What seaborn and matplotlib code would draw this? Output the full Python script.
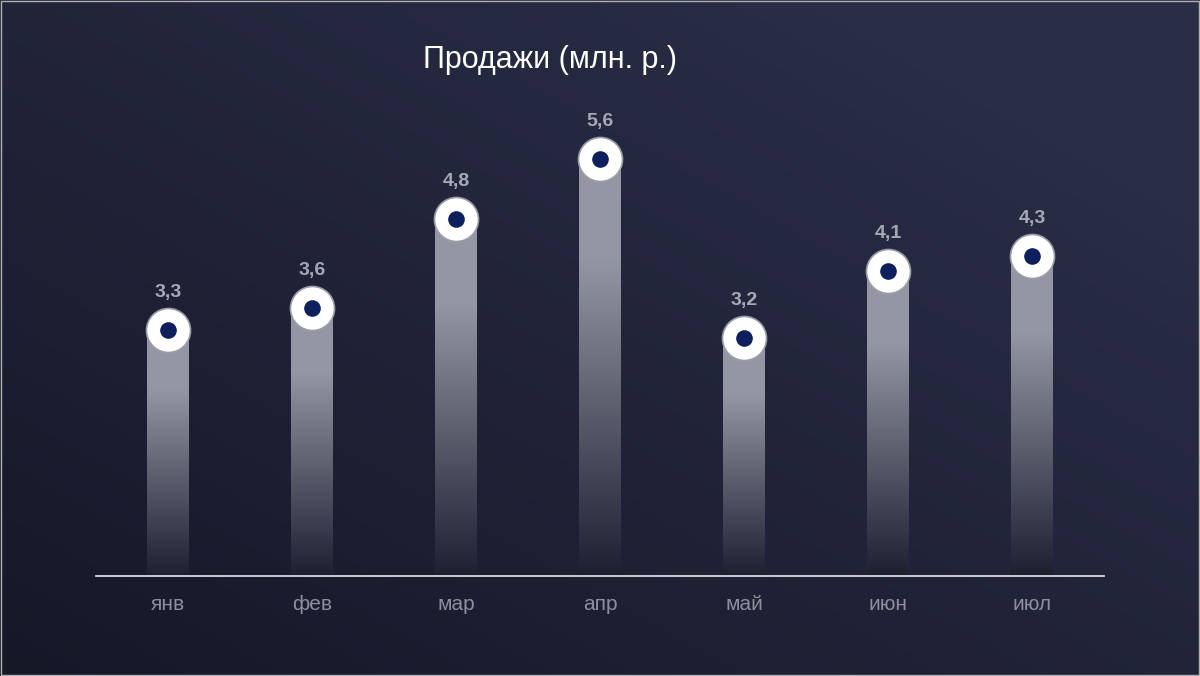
import numpy as np
import pandas as pd
import matplotlib
matplotlib.use("Agg")
import matplotlib.pyplot as plt
import seaborn as sns

months = ["янв", "фев", "мар", "апр", "май", "июн", "июл"]
sales = [3.3, 3.6, 4.8, 5.6, 3.2, 4.1, 4.3]
labels = ["3,3", "3,6", "4,8", "5,6", "3,2", "4,1", "4,3"]

sns.set_theme(style="white")
plt.rcParams['font.family'] = ['Liberation Sans', 'DejaVu Sans']

W, H = 12, 6.76
fig = plt.figure(figsize=(W, H), dpi=100)

# background gradient
bg = fig.add_axes([0, 0, 1, 1], zorder=-10)
yy, xx = np.mgrid[0:1:200j, 0:1:300j]
t = np.clip((xx * 0.6 + yy * 0.6), 0, 1)
c0 = np.array([0x16, 0x18, 0x28]) / 255
c1 = np.array([0x29, 0x2d, 0x45]) / 255
img = c0[None, None, :] * (1 - t[..., None]) + c1[None, None, :] * t[..., None]
bg.imshow(img, origin="lower", aspect="auto", extent=[0, 1, 0, 1])
bg.set_axis_off()
fig.patches.append(plt.Rectangle((0.001, 0.001), 0.998, 0.997, transform=fig.transFigure,
                                 fill=False, ec="#b0b0b0", lw=1))

ax = fig.add_axes([96 / 1200, 100 / 676, 1008 / 1200, 546 / 676])
ax.patch.set_alpha(0)
df = pd.DataFrame({"month": months, "sales": sales})
sns.barplot(data=df, x="month", y="sales", ax=ax, width=42 / 144, color="white",
            edgecolor="none", errorbar=None)
ax.set_xlim(-0.5, 6.5)
ax.set_ylim(0, 546 / 74.4)

ymax = 546 / 74.4
base = np.array([0x1e, 0x20, 0x32]) / 255
top = np.array([0x94, 0x96, 0xa4]) / 255
for p in ax.patches:
    x0, w, h = p.get_x(), p.get_width(), p.get_height()
    f = np.linspace(0, 1, 256)
    f = np.clip(f * ymax / 5.6, 0, 1) * (h / 5.6) ** 0.3
    f = np.clip(f / f.max(), 0, 1)
    col = base[None, :] * (1 - f[:, None]) + top[None, :] * f[:, None]
    im = ax.imshow(col[:, None, :], origin="lower", aspect="auto",
                   extent=[x0, x0 + w, 0, h], zorder=2)
    im.set_clip_path(p)

x = np.arange(len(months))
ax.scatter(x, sales, s=np.pi * 20 ** 2 / 1.25, color="white", edgecolor="#9a9ca8",
           linewidth=1.2, zorder=4)
ax.scatter(x, sales, s=120, color="#0d1f5c", zorder=5)
for xi, v, lab in zip(x, sales, labels):
    ax.annotate(lab, (xi, v), xytext=(0, 21), textcoords="offset points",
                ha="center", va="bottom", color="#a6a8b6", fontsize=14, fontweight="bold")

ax.set_xlabel("")
ax.set_ylabel("")
ax.set_yticks([])
ax.tick_params(axis="x", colors="#8d8f9c", labelsize=15, length=0, pad=14)
for s in ["top", "right", "left"]:
    ax.spines[s].set_visible(False)
ax.spines["bottom"].set_color("#e8e8ee")
ax.spines["bottom"].set_linewidth(1.2)

fig.text(550 / 1200, 1 - 60 / 676, "Продажи (млн. р.)", color="white", fontsize=22,
         ha="center", va="center")

fig.savefig("out.png", dpi=100, facecolor=fig.get_facecolor())
